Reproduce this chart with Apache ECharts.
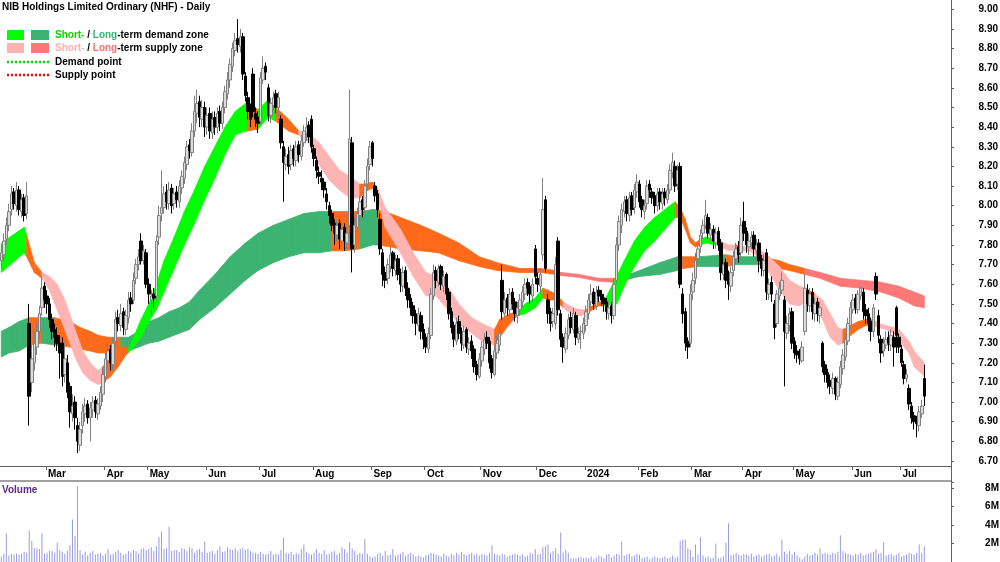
<!DOCTYPE html>
<html>
<head>
<meta charset="utf-8">
<script src="https://cdn.jsdelivr.net/npm/echarts@6/dist/echarts.min.js"></script>
<style>
  html, body { margin: 0; padding: 0; background: #fff; }
  #main { width: 1000px; height: 562px; }
</style>
</head>
<body>
<div id="main"></div>
<script>
// NHF daily, Feb 2023 - Jul 2024
var holidays = ['2023-04-07', '2023-04-10', '2023-04-25', '2023-06-12', '2023-12-25', '2023-12-26',
  '2024-01-01', '2024-01-26', '2024-03-29', '2024-04-01', '2024-04-25', '2024-06-10']
var monthNames = ['Jan', 'Feb', 'Mar', 'Apr', 'May', 'Jun', 'Jul', 'Aug', 'Sep', 'Oct', 'Nov', 'Dec']

var opens = [
  7.72, 7.75, 7.83, 7.90, 7.98, 8.07, 8.00, 8.08, 7.97, 8.04,
  7.96, 7.40, 7.10, 7.20, 7.28, 7.36, 7.48, 7.59, 7.54, 7.50,
  7.42, 7.37, 7.34, 7.30, 7.30, 7.14, 7.20, 7.08, 6.94, 7.00,
  6.88, 6.78, 6.88, 6.94, 6.99, 6.92, 6.96, 7.01, 6.94, 6.98,
  7.04, 7.13, 7.21, 7.27, 7.19, 7.31, 7.43, 7.39, 7.46, 7.37,
  7.43, 7.53, 7.52, 7.63, 7.70, 7.82, 7.72, 7.76, 7.60, 7.52,
  7.55, 7.54, 7.84, 7.96, 7.99, 8.07, 8.01, 8.09, 8.01, 8.07,
  8.02, 8.09, 8.14, 8.21, 8.31, 8.27, 8.38, 8.47, 8.53, 8.44,
  8.50, 8.40, 8.47, 8.37, 8.45, 8.40, 8.48, 8.42, 8.50, 8.57,
  8.64, 8.71, 8.79, 8.85, 8.81, 8.86, 8.66, 8.55, 8.49, 8.67,
  8.47, 8.45, 8.43, 8.64, 8.71, 8.60, 8.46, 8.51, 8.57, 8.50,
  8.44, 8.30, 8.21, 8.26, 8.21, 8.29, 8.23, 8.31, 8.25, 8.32,
  8.37, 8.41, 8.44, 8.29, 8.23, 8.17, 8.14, 8.12, 8.06, 8.00,
  7.96, 7.91, 7.85, 7.91, 7.82, 7.89, 7.81, 7.90, 8.32, 7.80,
  7.89, 7.95, 8.03, 7.99, 8.11, 8.21, 8.32, 8.10, 8.06, 7.93,
  7.76, 7.66, 7.63, 7.69, 7.76, 7.67, 7.73, 7.66, 7.59, 7.67,
  7.58, 7.53, 7.49, 7.45, 7.39, 7.44, 7.37, 7.33, 7.27, 7.34,
  7.54, 7.67, 7.61, 7.69, 7.59, 7.65, 7.56, 7.46, 7.39, 7.31,
  7.41, 7.36, 7.29, 7.37, 7.27, 7.31, 7.27, 7.19, 7.13, 7.21,
  7.27, 7.33, 7.31, 7.22, 7.14, 7.25, 7.29, 7.62, 7.45, 7.53,
  7.47, 7.56, 7.51, 7.44, 7.47, 7.51, 7.55, 7.61, 7.59, 7.54,
  7.78, 7.63, 7.59, 7.75, 8.03, 7.52, 7.46, 7.41, 7.40, 7.82,
  7.45, 7.33, 7.27, 7.34, 7.43, 7.37, 7.44, 7.32, 7.36, 7.35,
  7.39, 7.45, 7.51, 7.56, 7.49, 7.57, 7.55, 7.53, 7.51, 7.45,
  7.49, 7.44, 7.62, 7.80, 7.90, 7.97, 8.03, 7.95, 8.05, 7.99,
  8.07, 8.11, 8.03, 7.97, 8.01, 8.11, 8.07, 8.05, 8.00, 8.07,
  8.01, 8.07, 8.03, 8.08, 8.17, 8.20, 8.11, 8.20, 7.55, 7.46,
  7.31, 7.30, 7.56, 7.63, 7.73, 7.79, 7.86, 7.90, 7.94, 7.85,
  7.88, 7.81, 7.87, 7.81, 7.65, 7.71, 7.64, 7.59, 7.67, 7.73,
  7.79, 7.76, 7.92, 7.87, 7.79, 7.81, 7.85, 7.77, 7.81, 7.73,
  7.67, 7.76, 7.55, 7.61, 7.50, 7.40, 7.54, 7.57, 7.52, 7.35,
  7.39, 7.46, 7.31, 7.26, 7.25, 7.21, 7.36, 7.57, 7.49, 7.56,
  7.45, 7.51, 7.44, 7.30, 7.19, 7.15, 7.11, 7.07, 7.12, 7.03,
  7.09, 7.17, 7.23, 7.31, 7.39, 7.47, 7.53, 7.47, 7.54, 7.56,
  7.47, 7.45, 7.41, 7.36, 7.64, 7.44, 7.32, 7.26, 7.29, 7.33,
  7.29, 7.33, 7.48, 7.33, 7.27, 7.19, 7.12, 7.07, 6.98, 6.93,
  6.91, 6.88, 6.94, 7.12
]
var highs = [
  7.80, 7.86, 7.94, 8.01, 8.10, 8.09, 8.12, 8.10, 8.06, 8.06,
  8.12, 7.50, 7.30, 7.36, 7.40, 7.49, 7.64, 7.61, 7.57, 7.53,
  7.45, 7.40, 7.38, 7.34, 7.33, 7.30, 7.24, 7.10, 7.04, 7.03,
  6.92, 6.90, 6.99, 7.02, 7.01, 7.00, 7.03, 7.03, 7.02, 7.08,
  7.18, 7.26, 7.30, 7.29, 7.33, 7.46, 7.47, 7.50, 7.48, 7.47,
  7.56, 7.56, 7.66, 7.73, 7.78, 7.86, 7.80, 7.78, 7.63, 7.57,
  7.58, 7.85, 8.00, 8.18, 8.10, 8.11, 8.12, 8.11, 8.09, 8.10,
  8.13, 8.18, 8.25, 8.33, 8.34, 8.42, 8.56, 8.59, 8.56, 8.54,
  8.53, 8.50, 8.50, 8.48, 8.48, 8.50, 8.51, 8.53, 8.61, 8.68,
  8.75, 8.83, 8.88, 8.95, 8.90, 8.88, 8.68, 8.58, 8.52, 8.70,
  8.50, 8.48, 8.68, 8.76, 8.73, 8.62, 8.55, 8.58, 8.59, 8.58,
  8.46, 8.33, 8.29, 8.30, 8.31, 8.31, 8.33, 8.33, 8.36, 8.41,
  8.45, 8.43, 8.46, 8.31, 8.25, 8.20, 8.18, 8.14, 8.09, 8.02,
  7.98, 7.93, 7.93, 7.93, 7.91, 7.91, 7.89, 8.59, 8.35, 7.94,
  7.99, 8.05, 8.05, 8.13, 8.24, 8.33, 8.33, 8.12, 8.08, 7.96,
  7.78, 7.69, 7.73, 7.79, 7.77, 7.75, 7.75, 7.68, 7.69, 7.69,
  7.61, 7.55, 7.51, 7.47, 7.48, 7.46, 7.40, 7.35, 7.38, 7.58,
  7.70, 7.69, 7.70, 7.70, 7.67, 7.66, 7.58, 7.48, 7.41, 7.43,
  7.44, 7.38, 7.39, 7.38, 7.33, 7.34, 7.29, 7.21, 7.25, 7.31,
  7.35, 7.36, 7.33, 7.24, 7.29, 7.34, 7.38, 7.70, 7.56, 7.55,
  7.58, 7.58, 7.53, 7.51, 7.55, 7.59, 7.63, 7.63, 7.61, 7.63,
  7.80, 7.66, 7.68, 8.14, 8.05, 7.55, 7.48, 7.48, 7.74, 7.84,
  7.47, 7.35, 7.38, 7.45, 7.46, 7.48, 7.46, 7.38, 7.39, 7.43,
  7.49, 7.55, 7.60, 7.58, 7.59, 7.59, 7.57, 7.55, 7.53, 7.51,
  7.51, 7.63, 7.84, 7.95, 8.01, 8.05, 8.05, 8.07, 8.07, 8.11,
  8.16, 8.13, 8.05, 8.03, 8.13, 8.13, 8.09, 8.07, 8.09, 8.09,
  8.09, 8.09, 8.11, 8.21, 8.27, 8.23, 8.21, 8.22, 7.58, 7.48,
  7.33, 7.60, 7.66, 7.76, 7.81, 7.88, 7.93, 8.03, 7.96, 7.91,
  7.90, 7.89, 7.89, 7.83, 7.73, 7.73, 7.67, 7.69, 7.77, 7.81,
  7.82, 7.94, 8.02, 7.89, 7.86, 7.87, 7.87, 7.83, 7.83, 7.75,
  7.75, 7.78, 7.63, 7.64, 7.52, 7.57, 7.61, 7.66, 7.54, 7.44,
  7.48, 7.48, 7.33, 7.29, 7.27, 7.31, 7.65, 7.60, 7.58, 7.58,
  7.53, 7.53, 7.51, 7.31, 7.21, 7.17, 7.14, 7.15, 7.13, 7.13,
  7.21, 7.27, 7.35, 7.43, 7.51, 7.55, 7.55, 7.57, 7.59, 7.58,
  7.50, 7.48, 7.43, 7.50, 7.66, 7.47, 7.34, 7.33, 7.36, 7.36,
  7.37, 7.36, 7.49, 7.35, 7.29, 7.21, 7.17, 7.09, 7.00, 6.95,
  6.93, 6.98, 7.01, 7.19
]
var lows = [
  7.68, 7.72, 7.80, 7.87, 7.95, 7.98, 7.97, 7.95, 7.94, 7.92,
  7.93, 6.88, 7.05, 7.16, 7.24, 7.32, 7.44, 7.48, 7.45, 7.38,
  7.32, 7.28, 7.26, 7.12, 7.08, 7.10, 7.02, 6.87, 6.90, 6.86,
  6.74, 6.75, 6.84, 6.90, 6.89, 6.80, 6.92, 6.92, 6.91, 6.96,
  7.00, 7.10, 7.18, 7.16, 7.16, 7.28, 7.36, 7.36, 7.34, 7.34,
  7.40, 7.46, 7.50, 7.60, 7.67, 7.70, 7.70, 7.58, 7.50, 7.44,
  7.48, 7.52, 7.80, 7.92, 7.96, 7.98, 7.98, 7.96, 7.98, 7.99,
  7.99, 8.06, 8.11, 8.18, 8.24, 8.25, 8.35, 8.42, 8.40, 8.40,
  8.35, 8.36, 8.34, 8.34, 8.36, 8.37, 8.38, 8.39, 8.47, 8.54,
  8.60, 8.68, 8.76, 8.78, 8.78, 8.64, 8.53, 8.44, 8.40, 8.45,
  8.40, 8.37, 8.41, 8.62, 8.64, 8.43, 8.42, 8.48, 8.47, 8.46,
  8.29, 8.02, 8.18, 8.16, 8.18, 8.20, 8.20, 8.22, 8.23, 8.30,
  8.33, 8.32, 8.27, 8.20, 8.14, 8.11, 8.08, 8.04, 7.98, 7.91,
  7.87, 7.80, 7.82, 7.78, 7.79, 7.77, 7.78, 7.85, 7.66, 7.76,
  7.86, 7.92, 7.94, 7.96, 8.08, 8.18, 8.20, 8.02, 7.94, 7.75,
  7.59, 7.58, 7.60, 7.66, 7.64, 7.64, 7.62, 7.56, 7.56, 7.54,
  7.48, 7.44, 7.40, 7.34, 7.36, 7.32, 7.27, 7.25, 7.25, 7.32,
  7.52, 7.58, 7.59, 7.57, 7.56, 7.52, 7.42, 7.35, 7.28, 7.29,
  7.32, 7.26, 7.27, 7.25, 7.24, 7.22, 7.15, 7.11, 7.12, 7.18,
  7.24, 7.27, 7.17, 7.12, 7.13, 7.22, 7.26, 7.42, 7.43, 7.44,
  7.44, 7.47, 7.41, 7.40, 7.44, 7.48, 7.52, 7.54, 7.50, 7.51,
  7.60, 7.56, 7.56, 7.72, 7.66, 7.40, 7.36, 7.38, 7.37, 7.44,
  7.28, 7.20, 7.25, 7.32, 7.35, 7.35, 7.29, 7.30, 7.27, 7.32,
  7.36, 7.42, 7.48, 7.47, 7.47, 7.51, 7.49, 7.46, 7.42, 7.42,
  7.40, 7.42, 7.60, 7.77, 7.86, 7.94, 7.92, 7.92, 7.95, 7.96,
  8.04, 7.99, 7.94, 7.93, 7.98, 8.04, 8.01, 7.96, 7.97, 7.98,
  7.98, 8.00, 8.01, 8.06, 8.14, 8.07, 8.08, 7.58, 7.40, 7.26,
  7.22, 7.28, 7.52, 7.60, 7.70, 7.76, 7.83, 7.88, 7.83, 7.82,
  7.78, 7.78, 7.77, 7.62, 7.62, 7.58, 7.52, 7.56, 7.64, 7.70,
  7.71, 7.73, 7.82, 7.76, 7.75, 7.78, 7.74, 7.72, 7.66, 7.64,
  7.64, 7.52, 7.52, 7.51, 7.32, 7.38, 7.52, 7.55, 7.08, 7.32,
  7.36, 7.27, 7.22, 7.20, 7.19, 7.20, 7.34, 7.46, 7.46, 7.42,
  7.41, 7.41, 7.40, 7.15, 7.10, 7.07, 7.04, 7.04, 7.01, 7.01,
  7.07, 7.14, 7.21, 7.29, 7.37, 7.45, 7.45, 7.45, 7.52, 7.42,
  7.40, 7.36, 7.31, 7.33, 7.52, 7.30, 7.20, 7.23, 7.27, 7.26,
  7.26, 7.18, 7.25, 7.25, 7.18, 7.09, 7.10, 6.96, 6.89, 6.86,
  6.82, 6.85, 6.92, 6.98
]
var closes = [
  7.76, 7.82, 7.90, 7.97, 8.06, 8.01, 8.08, 7.98, 8.03, 7.95,
  8.05, 7.03, 7.22, 7.30, 7.36, 7.45, 7.58, 7.52, 7.50, 7.42,
  7.36, 7.33, 7.30, 7.25, 7.13, 7.22, 7.05, 6.95, 6.98, 6.92,
  6.80, 6.86, 6.95, 6.98, 6.92, 6.97, 7.00, 6.95, 6.99, 7.05,
  7.14, 7.22, 7.26, 7.20, 7.30, 7.42, 7.40, 7.45, 7.38, 7.44,
  7.52, 7.50, 7.62, 7.70, 7.74, 7.72, 7.77, 7.60, 7.55, 7.54,
  7.53, 7.82, 7.95, 7.99, 8.06, 8.02, 8.08, 8.00, 8.06, 8.03,
  8.10, 8.15, 8.22, 8.30, 8.28, 8.38, 8.48, 8.52, 8.45, 8.50,
  8.40, 8.46, 8.38, 8.44, 8.40, 8.47, 8.42, 8.50, 8.58, 8.64,
  8.72, 8.80, 8.84, 8.82, 8.86, 8.67, 8.56, 8.48, 8.44, 8.48,
  8.44, 8.42, 8.65, 8.70, 8.68, 8.46, 8.52, 8.55, 8.50, 8.55,
  8.32, 8.22, 8.25, 8.20, 8.28, 8.24, 8.30, 8.26, 8.33, 8.38,
  8.40, 8.35, 8.30, 8.24, 8.18, 8.15, 8.12, 8.08, 8.02, 7.95,
  7.90, 7.86, 7.90, 7.83, 7.88, 7.82, 7.86, 8.34, 7.78, 7.90,
  7.96, 8.02, 7.98, 8.10, 8.20, 8.30, 8.24, 8.05, 7.98, 7.78,
  7.65, 7.62, 7.70, 7.75, 7.68, 7.72, 7.65, 7.60, 7.66, 7.58,
  7.52, 7.48, 7.44, 7.40, 7.45, 7.36, 7.32, 7.28, 7.35, 7.55,
  7.66, 7.62, 7.68, 7.60, 7.64, 7.55, 7.45, 7.38, 7.32, 7.40,
  7.35, 7.30, 7.36, 7.28, 7.30, 7.26, 7.18, 7.14, 7.22, 7.28,
  7.32, 7.30, 7.20, 7.15, 7.26, 7.30, 7.35, 7.46, 7.52, 7.48,
  7.55, 7.50, 7.45, 7.48, 7.52, 7.56, 7.60, 7.58, 7.55, 7.60,
  7.64, 7.60, 7.65, 7.98, 7.68, 7.45, 7.40, 7.45, 7.70, 7.47,
  7.32, 7.28, 7.35, 7.42, 7.38, 7.45, 7.33, 7.35, 7.36, 7.40,
  7.46, 7.52, 7.55, 7.50, 7.56, 7.54, 7.52, 7.50, 7.46, 7.48,
  7.44, 7.60, 7.80, 7.92, 7.98, 8.02, 7.96, 8.04, 7.98, 8.08,
  8.12, 8.02, 7.98, 8.00, 8.10, 8.08, 8.04, 8.00, 8.06, 8.02,
  8.06, 8.04, 8.08, 8.18, 8.22, 8.10, 8.18, 7.60, 7.45, 7.30,
  7.28, 7.55, 7.62, 7.72, 7.78, 7.85, 7.90, 7.95, 7.86, 7.88,
  7.82, 7.86, 7.80, 7.66, 7.70, 7.62, 7.60, 7.66, 7.74, 7.78,
  7.75, 7.90, 7.86, 7.80, 7.82, 7.84, 7.78, 7.80, 7.72, 7.68,
  7.72, 7.56, 7.60, 7.55, 7.38, 7.55, 7.58, 7.62, 7.36, 7.40,
  7.45, 7.30, 7.25, 7.24, 7.22, 7.28, 7.58, 7.50, 7.55, 7.46,
  7.50, 7.45, 7.48, 7.18, 7.14, 7.10, 7.08, 7.12, 7.04, 7.10,
  7.18, 7.24, 7.32, 7.40, 7.48, 7.52, 7.48, 7.55, 7.58, 7.46,
  7.44, 7.40, 7.36, 7.48, 7.55, 7.34, 7.25, 7.30, 7.32, 7.30,
  7.34, 7.28, 7.34, 7.28, 7.20, 7.12, 7.14, 6.99, 6.92, 6.90,
  6.89, 6.95, 6.98, 7.03
]
// volume in millions of shares
var volumes = [
  0.6, 0.9, 3.1, 0.7, 0.9, 0.8, 0.9, 0.8, 0.9, 1.1, 1.0, 3.4, 2.3, 1.5, 1.5, 1.4, 3.1, 0.9, 1.0, 1.2,
  1.2, 1.0, 2.1, 1.3, 1.1, 0.9, 1.2, 1.8, 4.6, 2.8, 8.2, 1.3, 0.8, 1.1, 0.7, 1.0, 1.2, 0.8, 0.9, 1.0,
  0.7, 0.9, 1.4, 0.8, 0.9, 1.1, 1.3, 1.0, 0.8, 0.9, 1.2, 1.0, 1.3, 1.2, 0.9, 1.4, 1.5, 1.3, 1.4, 1.6,
  1.2, 1.7, 2.7, 3.3, 1.4, 1.5, 3.8, 1.2, 1.3, 1.3, 1.1, 1.5, 1.4, 1.2, 1.6, 1.5, 1.0, 1.3, 1.4, 1.1,
  2.2, 1.0, 1.1, 1.2, 0.9, 1.3, 1.7, 1.1, 1.2, 1.6, 1.4, 1.3, 1.5, 1.2, 1.4, 1.5, 1.3, 1.4, 1.2, 1.0,
  1.0, 0.9, 1.1, 0.9, 0.8, 0.9, 1.2, 0.8, 0.9, 0.8, 1.3, 2.6, 1.0, 0.9, 1.1, 0.8, 1.0, 0.9, 1.4, 1.9,
  1.1, 0.9, 0.8, 1.0, 1.4, 1.0, 0.9, 1.3, 0.8, 0.9, 1.1, 1.2, 0.8, 1.0, 1.6, 1.4, 1.0, 2.1, 1.5, 1.2,
  0.8, 1.0, 0.9, 2.5, 0.9, 0.6, 0.5, 0.6, 0.9, 1.0, 0.7, 1.2, 0.7, 0.8, 1.4, 0.7, 0.8, 0.9, 1.1, 0.7,
  0.9, 1.0, 0.8, 0.6, 0.7, 0.6, 0.5, 0.7, 0.8, 1.0, 0.9, 0.8, 0.7, 0.6, 0.9, 0.7, 0.6, 0.9, 0.7, 1.0,
  0.8, 1.1, 0.9, 0.7, 0.9, 1.0, 0.8, 0.9, 0.7, 0.9, 0.8, 0.7, 1.0, 1.8, 0.9, 0.8, 0.7, 0.9, 0.8, 0.6,
  0.7, 0.8, 0.9, 0.8, 0.7, 0.8, 0.6, 0.7, 1.0, 0.9, 1.4, 0.8, 0.9, 1.6, 1.7, 1.9, 1.0, 1.2, 1.5, 0.9,
  3.2, 1.0, 1.3, 1.0, 0.4, 0.4, 0.4, 0.5, 0.5, 0.4, 0.5, 0.4, 0.6, 0.3, 0.5, 0.7, 0.6, 0.4, 0.8, 0.9,
  0.5, 0.7, 0.9, 0.8, 2.2, 0.7, 0.8, 0.9, 0.6, 0.7, 0.9, 0.8, 0.4, 0.5, 0.6, 0.3, 0.5, 0.6, 0.5, 0.4,
  0.5, 0.6, 0.4, 0.5, 0.7, 0.5, 0.6, 2.3, 2.4, 2.4, 1.5, 1.3, 0.6, 1.9, 0.8, 2.7, 0.7, 0.5, 0.6, 0.4,
  0.5, 2.0, 0.4, 0.5, 0.6, 2.1, 4.2, 0.7, 0.8, 1.0, 0.8, 0.7, 0.9, 0.8, 0.7, 0.9, 0.6, 0.7, 0.8, 0.6,
  0.7, 0.8, 0.9, 0.6, 0.7, 0.9, 0.6, 2.4, 1.1, 0.9, 1.2, 0.8, 1.1, 0.7, 0.5, 0.3, 0.6, 0.9, 0.7, 0.8,
  1.0, 0.8, 1.5, 0.9, 1.0, 0.9, 0.8, 1.0, 0.9, 1.1, 2.9, 1.2, 1.0, 0.9, 0.8, 0.7, 0.9, 0.8, 1.0, 0.7,
  0.8, 0.9, 1.0, 1.1, 1.4, 0.9, 1.0, 2.1, 0.7, 0.8, 0.9, 0.7, 0.8, 1.0, 0.6, 0.7, 0.8, 1.0, 0.9, 0.8,
  1.0, 1.9, 1.0, 1.7
]
// zone edges: [candle index, upper, lower, state of the zone from here: d demand / s supply / t turning]
var shortZone = [
  [0, 7.81, 7.66, 'd'], [9, 7.89, 7.76, 'd'], [10, 7.85, 7.74, 't'], [13, 7.71, 7.66, 't'],
  [16, 7.66, 7.63, 's'], [19, 7.64, 7.57, 's'], [22, 7.60, 7.47, 's'], [25, 7.52, 7.37, 's'],
  [29, 7.37, 7.23, 's'], [32, 7.26, 7.15, 's'], [35, 7.20, 7.11, 's'], [38, 7.16, 7.09, 's'],
  [40, 7.18, 7.10, 't'], [43, 7.24, 7.13, 't'], [46, 7.28, 7.18, 't'], [49, 7.28, 7.24, 't'],
  [50, 7.27, 7.25, 'd'], [52, 7.33, 7.28, 'd'], [55, 7.42, 7.33, 'd'], [58, 7.50, 7.41, 'd'],
  [61, 7.60, 7.47, 'd'], [64, 7.72, 7.56, 'd'], [68, 7.84, 7.68, 'd'], [72, 7.97, 7.80, 'd'],
  [76, 8.08, 7.91, 'd'], [80, 8.20, 8.03, 'd'], [84, 8.30, 8.14, 'd'], [88, 8.40, 8.26, 'd'],
  [92, 8.48, 8.36, 'd'], [96, 8.52, 8.38, 'd'], [97, 8.52, 8.38, 't'], [101, 8.49, 8.39, 'd'],
  [105, 8.54, 8.45, 'd'], [108, 8.50, 8.43, 't'], [113, 8.44, 8.38, 't'], [117, 8.38, 8.36, 's'],
  [121, 8.37, 8.32, 's'], [125, 8.32, 8.21, 's'], [129, 8.25, 8.13, 's'], [133, 8.18, 8.08, 's'],
  [137, 8.15, 8.04, 's'], [141, 8.11, 8.04, 't'], [143, 8.11, 8.07, 't'], [146, 8.12, 8.09, 't'],
  [148, 8.09, 8.04, 's'], [151, 7.99, 7.89, 's'], [157, 7.88, 7.76, 's'], [162, 7.76, 7.64, 's'],
  [167, 7.66, 7.54, 's'], [171, 7.64, 7.54, 's'], [175, 7.60, 7.48, 's'], [180, 7.50, 7.40, 's'],
  [185, 7.43, 7.35, 's'], [189, 7.40, 7.31, 's'], [194, 7.37, 7.29, 't'], [196, 7.42, 7.33, 't'],
  [200, 7.45, 7.40, 't'], [203, 7.46, 7.44, 'd'], [206, 7.50, 7.45, 'd'], [210, 7.53, 7.48, 'd'],
  [213, 7.58, 7.53, 't'], [215, 7.57, 7.52, 't'], [218, 7.55, 7.52, 't'], [221, 7.51, 7.48, 's'],
  [225, 7.48, 7.44, 's'], [228, 7.47, 7.44, 's'], [230, 7.47, 7.45, 't'], [235, 7.51, 7.49, 't'],
  [237, 7.51, 7.49, 'd'], [242, 7.64, 7.50, 'd'], [245, 7.72, 7.59, 'd'], [249, 7.82, 7.69, 'd'],
  [253, 7.89, 7.77, 'd'], [257, 7.94, 7.82, 'd'], [261, 7.98, 7.88, 'd'], [265, 8.02, 7.94, 't'],
  [267, 7.99, 7.94, 't'], [269, 7.93, 7.88, 't'], [271, 7.84, 7.81, 't'], [273, 7.81, 7.79, 't'],
  [275, 7.83, 7.80, 'd'], [277, 7.84, 7.81, 'd'], [281, 7.83, 7.80, 's'], [283, 7.82, 7.79, 's'],
  [286, 7.80, 7.77, 's'], [289, 7.80, 7.78, 't'], [292, 7.79, 7.77, 's'], [294, 7.79, 7.77, 's'],
  [298, 7.78, 7.74, 's'], [302, 7.74, 7.66, 's'], [306, 7.69, 7.57, 's'], [310, 7.62, 7.50, 's'],
  [314, 7.59, 7.49, 's'], [316, 7.58, 7.51, 't'], [320, 7.55, 7.50, 's'], [323, 7.52, 7.42, 's'],
  [326, 7.45, 7.33, 's'], [329, 7.38, 7.29, 's'], [331, 7.37, 7.30, 't'], [334, 7.39, 7.34, 't'],
  [337, 7.41, 7.37, 't'], [340, 7.42, 7.39, 't'], [343, 7.42, 7.39, 's'], [345, 7.40, 7.38, 's'],
  [348, 7.39, 7.37, 's'], [351, 7.38, 7.35, 's'], [353, 7.37, 7.31, 's'], [357, 7.31, 7.25, 's'],
  [359, 7.26, 7.18, 's'], [363, 7.20, 7.13, 's']
]
var longZone = [
  [0, 7.36, 7.23, 'd'], [3, 7.38, 7.25, 'd'], [7, 7.41, 7.26, 'd'], [11, 7.43, 7.29, 't'],
  [16, 7.43, 7.30, 'd'], [21, 7.43, 7.29, 't'], [27, 7.41, 7.28, 't'], [31, 7.38, 7.27, 't'],
  [35, 7.36, 7.26, 't'], [38, 7.34, 7.25, 't'], [42, 7.33, 7.25, 't'], [47, 7.33, 7.25, 'd'],
  [50, 7.33, 7.26, 'd'], [54, 7.36, 7.28, 'd'], [58, 7.41, 7.30, 'd'], [62, 7.43, 7.31, 'd'],
  [66, 7.46, 7.33, 'd'], [70, 7.48, 7.35, 'd'], [74, 7.51, 7.37, 'd'], [78, 7.57, 7.42, 'd'],
  [84, 7.65, 7.48, 'd'], [90, 7.74, 7.55, 'd'], [96, 7.81, 7.62, 'd'], [101, 7.86, 7.67, 'd'],
  [107, 7.90, 7.71, 'd'], [113, 7.93, 7.74, 'd'], [119, 7.96, 7.76, 'd'], [125, 7.97, 7.76, 'd'],
  [130, 7.97, 7.77, 't'], [135, 7.97, 7.77, 't'], [141, 7.97, 7.78, 'd'], [146, 7.98, 7.80, 'd'],
  [148, 7.98, 7.80, 't'], [153, 7.96, 7.79, 't'], [157, 7.94, 7.78, 't'], [165, 7.90, 7.77, 't'],
  [172, 7.86, 7.76, 't'], [180, 7.81, 7.72, 't'], [188, 7.74, 7.69, 't'], [195, 7.71, 7.67, 't'],
  [204, 7.68, 7.66, 't'], [212, 7.68, 7.66, 't'], [218, 7.67, 7.65, 't'], [220, 7.66, 7.645, 's'],
  [227, 7.65, 7.635, 's'], [235, 7.63, 7.615, 's'], [241, 7.63, 7.61, 't'], [245, 7.64, 7.62, 'd'],
  [251, 7.67, 7.64, 'd'], [259, 7.71, 7.65, 'd'], [266, 7.74, 7.67, 'd'], [268, 7.74, 7.68, 't'],
  [274, 7.74, 7.69, 'd'], [285, 7.75, 7.69, 't'], [289, 7.74, 7.70, 'd'], [299, 7.74, 7.70, 't'],
  [306, 7.72, 7.68, 't'], [310, 7.70, 7.67, 't'], [316, 7.68, 7.65, 's'], [322, 7.66, 7.63, 's'],
  [330, 7.63, 7.59, 's'], [338, 7.62, 7.58, 's'], [346, 7.61, 7.56, 's'], [353, 7.59, 7.53, 's'],
  [359, 7.56, 7.49, 's'], [363, 7.54, 7.48, 's']
]

var FONT = '"Liberation Sans", Arial, sans-serif'
var shortColors = { d: '#00ff00', s: '#ffb4b4', t: '#ff6a1a' }
var longColors = { d: '#3cb371', s: '#ff7777', t: '#ff6a1a' }

// trading days on the category axis, plus some empty days on the right
function tradingDays(start, count, skip) {
  var out = []
  var d = new Date(start + 'T00:00:00Z')
  while (out.length < count) {
    var wd = d.getUTCDay()
    var s = d.toISOString().slice(0, 10)
    if (wd !== 0 && wd !== 6 && skip.indexOf(s) < 0) out.push(s)
    d.setUTCDate(d.getUTCDate() + 1)
  }
  return out
}
var dates = tradingDays('2023-02-03', closes.length + 10, holidays)

function isMonthStart(i) {
  return i > 0 && dates[i].slice(5, 7) !== dates[i - 1].slice(5, 7)
}
function monthLabel(value) {
  var m = +value.slice(5, 7)
  return m === 1 ? value.slice(0, 4) : monthNames[m - 1]
}

var candles = opens.map(function (o, i) {
  return [o, closes[i], lows[i], highs[i]]
})

// filled zone between two edges, coloured piece by piece
function zoneSeries(zone, colors, z) {
  var segs = []
  for (var k = 0; k < zone.length - 1; k++) segs.push([zone[k][0], zone[k][1], k])
  return {
    type: 'custom',
    xAxisIndex: 0,
    yAxisIndex: 0,
    z: z,
    silent: true,
    clip: true,
    encode: { x: 0, y: 1 },
    data: segs,
    renderItem: function (params, api) {
      var k = api.value(2)
      var a = zone[k]
      var b = zone[k + 1]
      var col = colors[a[3]]
      var pts = [
        api.coord([a[0], a[1]]),
        api.coord([b[0], b[1]]),
        api.coord([b[0], b[2]]),
        api.coord([a[0], a[2]])
      ]
      return {
        type: 'polygon',
        shape: { points: pts },
        style: { fill: col, stroke: col, lineWidth: 0.8 }
      }
    }
  }
}

var chart = echarts.init(document.getElementById('main'))
var option = {
  animation: false,
  backgroundColor: '#ffffff',
  textStyle: { fontFamily: FONT },
  grid: [
    { left: 0, right: 49, top: 0, height: 466, outerBoundsMode: 'none' },
    { left: 0, right: 49, top: 482, height: 80, outerBoundsMode: 'none' }
  ],
  xAxis: [
    {
      type: 'category',
      gridIndex: 0,
      data: dates,
      boundaryGap: true,
      axisLine: { show: true, lineStyle: { color: '#606060', width: 1 } },
      axisTick: {
        show: true,
        interval: function (i) { return isMonthStart(i) },
        length: 4,
        lineStyle: { color: '#606060' }
      },
      axisLabel: {
        show: true,
        interval: function (i) { return isMonthStart(i) },
        formatter: monthLabel,
        align: 'left',
        margin: 3,
        color: '#000',
        fontSize: 10,
        fontWeight: 'bold',
        fontFamily: FONT,
        padding: [0, 0, 0, 1]
      },
      splitLine: { show: false }
    },
    {
      type: 'category',
      gridIndex: 1,
      data: dates,
      boundaryGap: true,
      axisLine: { show: false },
      axisTick: { show: false },
      axisLabel: { show: false },
      splitLine: { show: false }
    }
  ],
  yAxis: [
    {
      type: 'value',
      gridIndex: 0,
      position: 'right',
      min: 6.6745,
      max: 9.0473,
      minInterval: 0.1,
      maxInterval: 0.1,
      splitLine: { show: false },
      axisLine: { show: true, lineStyle: { color: '#606060' } },
      axisTick: { show: true, length: 3, lineStyle: { color: '#606060' } },
      axisLabel: {
        margin: 47,
        align: 'right',
        color: '#000',
        fontSize: 10,
        fontWeight: 'bold',
        fontFamily: FONT,
        showMinLabel: false,
        showMaxLabel: false,
        formatter: function (v) {
          return Math.abs(v * 10 - Math.round(v * 10)) < 1e-6 ? v.toFixed(2) : ''
        }
      }
    },
    {
      type: 'value',
      gridIndex: 1,
      position: 'right',
      min: 0,
      max: 8.65,
      interval: 2,
      splitLine: { show: false },
      axisLine: { show: true, lineStyle: { color: '#606060' } },
      axisTick: { show: true, length: 3, lineStyle: { color: '#606060' } },
      axisLabel: {
        margin: 48,
        align: 'right',
        color: '#000',
        fontSize: 10,
        fontWeight: 'bold',
        fontFamily: FONT,
        formatter: function (v) {
          return v > 0 && Math.abs(v / 2 - Math.round(v / 2)) < 1e-6 ? v + 'M' : ''
        }
      }
    }
  ],
  series: [
    zoneSeries(longZone, longColors, 1),
    zoneSeries(shortZone, shortColors, 2),
    {
      type: 'candlestick',
      xAxisIndex: 0,
      yAxisIndex: 0,
      z: 5,
      silent: true,
      barWidth: 3,
      data: candles,
      itemStyle: {
        color: '#dcdcdc',
        color0: '#000000',
        borderColor: '#808080',
        borderColor0: '#000000',
        borderWidth: 1
      }
    },
    {
      type: 'bar',
      xAxisIndex: 1,
      yAxisIndex: 1,
      silent: true,
      barWidth: 1,
      data: volumes,
      itemStyle: { color: '#9a9ae0' }
    }
  ],
  graphic: [
    { type: 'rect', shape: { x: 0, y: 480, width: 951, height: 2 }, style: { fill: '#a0a0a0' }, silent: true },
    { type: 'line', shape: { x1: 951.5, y1: 462, x2: 951.5, y2: 486 }, style: { stroke: '#606060', lineWidth: 1 }, silent: true },
    {
      type: 'text', x: 2, y: 2, silent: true,
      style: { text: 'NIB Holdings Limited Ordinary (NHF) - Daily', fill: '#000', font: 'bold 10px ' + FONT }
    },
    { type: 'rect', shape: { x: 7, y: 30, width: 17, height: 10 }, style: { fill: shortColors.d }, silent: true },
    { type: 'rect', shape: { x: 31, y: 30, width: 18, height: 10 }, style: { fill: longColors.d }, silent: true },
    { type: 'rect', shape: { x: 7, y: 43, width: 17, height: 10 }, style: { fill: shortColors.s }, silent: true },
    { type: 'rect', shape: { x: 31, y: 43, width: 18, height: 10 }, style: { fill: longColors.s }, silent: true },
    {
      type: 'line', shape: { x1: 7, y1: 62, x2: 49, y2: 62 }, silent: true,
      style: { stroke: '#00e000', lineWidth: 2.5, lineDash: [2, 2] }
    },
    {
      type: 'line', shape: { x1: 7, y1: 75, x2: 49, y2: 75 }, silent: true,
      style: { stroke: '#ff0000', lineWidth: 2.5, lineDash: [2, 2] }
    },
    {
      type: 'text', x: 55, y: 35, silent: true,
      style: {
        text: '{a|Short-} / {b|Long}-term demand zone',
        fill: '#000', font: 'bold 10px ' + FONT, verticalAlign: 'middle',
        rich: {
          a: { fill: '#00dd00', font: 'bold 10px ' + FONT },
          b: { fill: '#3cb371', font: 'bold 10px ' + FONT }
        }
      }
    },
    {
      type: 'text', x: 55, y: 48, silent: true,
      style: {
        text: '{a|Short-} / {b|Long}-term supply zone',
        fill: '#000', font: 'bold 10px ' + FONT, verticalAlign: 'middle',
        rich: {
          a: { fill: '#ffb0b0', font: 'bold 10px ' + FONT },
          b: { fill: '#ff7070', font: 'bold 10px ' + FONT }
        }
      }
    },
    {
      type: 'text', x: 55, y: 62, silent: true,
      style: { text: 'Demand point', fill: '#000', font: 'bold 10px ' + FONT, verticalAlign: 'middle' }
    },
    {
      type: 'text', x: 55, y: 75, silent: true,
      style: { text: 'Supply point', fill: '#000', font: 'bold 10px ' + FONT, verticalAlign: 'middle' }
    },
    {
      type: 'text', x: 2, y: 490, silent: true,
      style: { text: 'Volume', fill: '#5b2a86', font: 'bold 10px ' + FONT, verticalAlign: 'middle' }
    }
  ]
}
chart.setOption(option)
</script>
</body>
</html>
